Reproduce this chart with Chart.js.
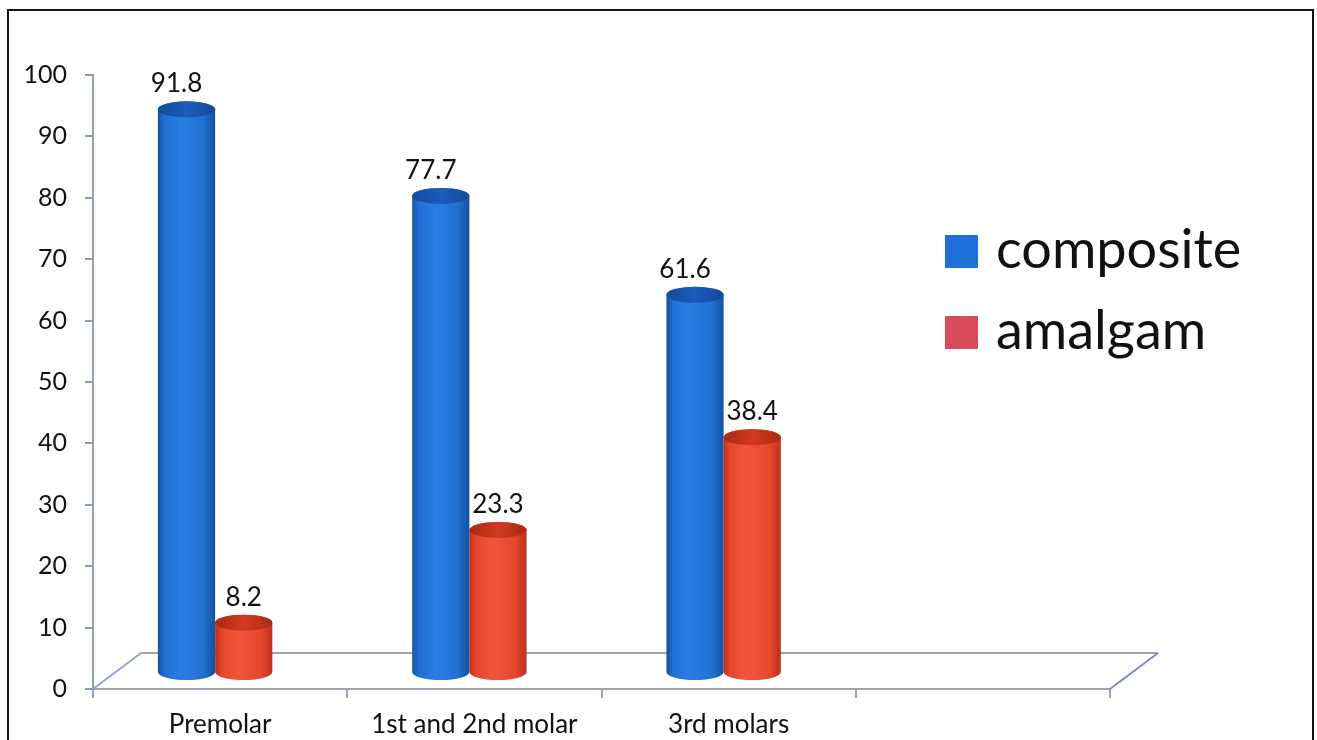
<!DOCTYPE html>
<html>
<head>
<meta charset="utf-8">
<script src="https://cdn.jsdelivr.net/npm/chart.js@4/dist/chart.umd.min.js"></script>
<style>
  html, body { margin: 0; padding: 0; background: #fff; }
  #wrap { width: 1317px; height: 740px; position: relative; }
</style>
</head>
<body>
<div id="wrap"><canvas id="chart"></canvas></div>
<script>
// Share of restorations by tooth type (%)
const categories = ['Premolar', '1st and 2nd molar', '3rd molars', ''];
const composite = [91.8, 77.7, 61.6, null];
const amalgam = [8.2, 23.3, 38.4, null];
const seriesNames = ['composite', 'amalgam'];

const FONT = 'Lato, "Open Sans", sans-serif';

// colour sets for the cylinder bodies, caps and legend swatches
const palette = [
  { edge: '#17509e', light: '#2b7de2', mid: '#2170d4', cap: '#1b5cbc', capEdge: '#144a98', swatch: '#1f6fd6', labelDx: -10 },
  { edge: '#bc321b', light: '#f0553a', mid: '#e6472c', cap: '#d23a1f', capEdge: '#a82a14', swatch: '#d84a5a', labelDx: 0 }
];

// 3D look: cylinders sit inside a receding floor
const DEPTH = { fx: 48, fy: -36, barDx: -5, barDy: -16, ry: 8 };

function drawCylinder(ctx, cx, w, top, bottom, ry, c) {
  const rx = w / 2, l = cx - rx, r = cx + rx;
  const g = ctx.createLinearGradient(l, 0, r, 0);
  g.addColorStop(0, c.edge);
  g.addColorStop(0.12, c.mid);
  g.addColorStop(0.4, c.light);
  g.addColorStop(0.8, c.mid);
  g.addColorStop(1, c.edge);
  ctx.beginPath();
  ctx.moveTo(l, top);
  ctx.lineTo(l, bottom);
  ctx.ellipse(cx, bottom, rx, ry, 0, Math.PI, 0, true);
  ctx.lineTo(r, top);
  ctx.ellipse(cx, top, rx, ry, 0, 0, Math.PI, true);
  ctx.closePath();
  ctx.fillStyle = g;
  ctx.fill();
  // cap
  const cg = ctx.createLinearGradient(l, 0, r, 0);
  cg.addColorStop(0, c.capEdge);
  cg.addColorStop(0.5, c.cap);
  cg.addColorStop(1, c.capEdge);
  ctx.beginPath();
  ctx.ellipse(cx, top, rx, ry, 0, 0, Math.PI * 2);
  ctx.fillStyle = cg;
  ctx.fill();
}

const frame = {
  id: 'frame',
  beforeDraw(chart) {
    const ctx = chart.ctx;
    ctx.save();
    ctx.fillStyle = '#fff';
    ctx.fillRect(0, 0, chart.width, chart.height);
    ctx.strokeStyle = '#111';
    ctx.lineWidth = 2;
    ctx.strokeRect(8, 10, 1305, 760);
    ctx.restore();
  }
};

const floor = {
  id: 'floor',
  beforeDatasetsDraw(chart) {
    const { ctx, chartArea: a, scales: { y } } = chart;
    const y0 = y.getPixelForValue(0);
    ctx.save();
    ctx.lineWidth = 2;
    ctx.strokeStyle = '#9ea4ae';
    ctx.beginPath();
    ctx.moveTo(a.left + DEPTH.fx, y0 + DEPTH.fy);
    ctx.lineTo(a.right + DEPTH.fx, y0 + DEPTH.fy);
    ctx.stroke();
    ctx.strokeStyle = '#8fa6d2';
    ctx.beginPath();
    ctx.moveTo(a.left, y0);
    ctx.lineTo(a.left + DEPTH.fx, y0 + DEPTH.fy);
    ctx.stroke();
    ctx.strokeStyle = '#7c88d4';
    ctx.beginPath();
    ctx.moveTo(a.right, y0);
    ctx.lineTo(a.right + DEPTH.fx, y0 + DEPTH.fy);
    ctx.stroke();
    ctx.restore();
  }
};

const cylinders = {
  id: 'cylinders',
  afterDatasetsDraw(chart) {
    const ctx = chart.ctx;
    ctx.save();
    chart.data.datasets.forEach((ds, di) => {
      const meta = chart.getDatasetMeta(di);
      meta.data.forEach((bar, i) => {
        const v = ds.data[i];
        if (v === null || v === undefined) return;
        const cx = bar.x + DEPTH.barDx;
        const top = bar.y + DEPTH.barDy;
        const bottom = bar.base + DEPTH.barDy;
        drawCylinder(ctx, cx, bar.width, top, bottom, DEPTH.ry, palette[di]);
        ctx.fillStyle = '#111';
        ctx.font = '26px ' + FONT;
        ctx.textAlign = 'center';
        ctx.textBaseline = 'alphabetic';
        ctx.fillText(v.toFixed(1), cx + palette[di].labelDx, top - DEPTH.ry - 9);
      });
    });
    ctx.restore();
  }
};

const legendBox = {
  id: 'legendBox',
  afterDraw(chart) {
    const ctx = chart.ctx;
    ctx.save();
    ctx.font = '54px ' + FONT;
    ctx.textAlign = 'left';
    ctx.textBaseline = 'alphabetic';
    seriesNames.forEach((name, i) => {
      const top = 235 + i * 81;
      ctx.fillStyle = palette[i].swatch;
      ctx.fillRect(945, top, 33, 33);
      ctx.fillStyle = '#111';
      ctx.fillText(name, 996, top + 33);
    });
    ctx.restore();
  }
};

new Chart(document.getElementById('chart'), {
  type: 'bar',
  data: {
    labels: categories,
    datasets: [
      { label: seriesNames[0], data: composite, backgroundColor: 'rgba(0,0,0,0)', borderWidth: 0 },
      { label: seriesNames[1], data: amalgam, backgroundColor: 'rgba(0,0,0,0)', borderWidth: 0 }
    ]
  },
  options: {
    responsive: true,
    maintainAspectRatio: false,
    animation: false,
    events: [],
    categoryPercentage: 0.45,
    barPercentage: 1.0,
    layout: { padding: { left: 0, right: 207, top: 75, bottom: 0 } },
    plugins: { legend: { display: false }, tooltip: { enabled: false } },
    scales: {
      x: {
        afterFit(s) { s.height = 51; },
        grid: { offset: true, drawOnChartArea: false, drawTicks: true, tickLength: 9, color: '#9aa2b4', lineWidth: 2 },
        border: { display: true, color: '#9aa2b4', width: 2 },
        ticks: { color: '#111', font: { family: FONT, size: 26 }, padding: 11, maxRotation: 0, autoSkip: false }
      },
      y: {
        min: 0, max: 100,
        afterFit(s) { s.width = 93; },
        grid: { drawOnChartArea: false, drawTicks: true, tickLength: 8, color: '#8e9aa8', lineWidth: 2 },
        border: { display: true, color: '#8aa0b8', width: 2 },
        ticks: { stepSize: 10, color: '#111', font: { family: FONT, size: 25 }, padding: 18 }
      }
    }
  },
  plugins: [frame, floor, cylinders, legendBox]
});
</script>
</body>
</html>
